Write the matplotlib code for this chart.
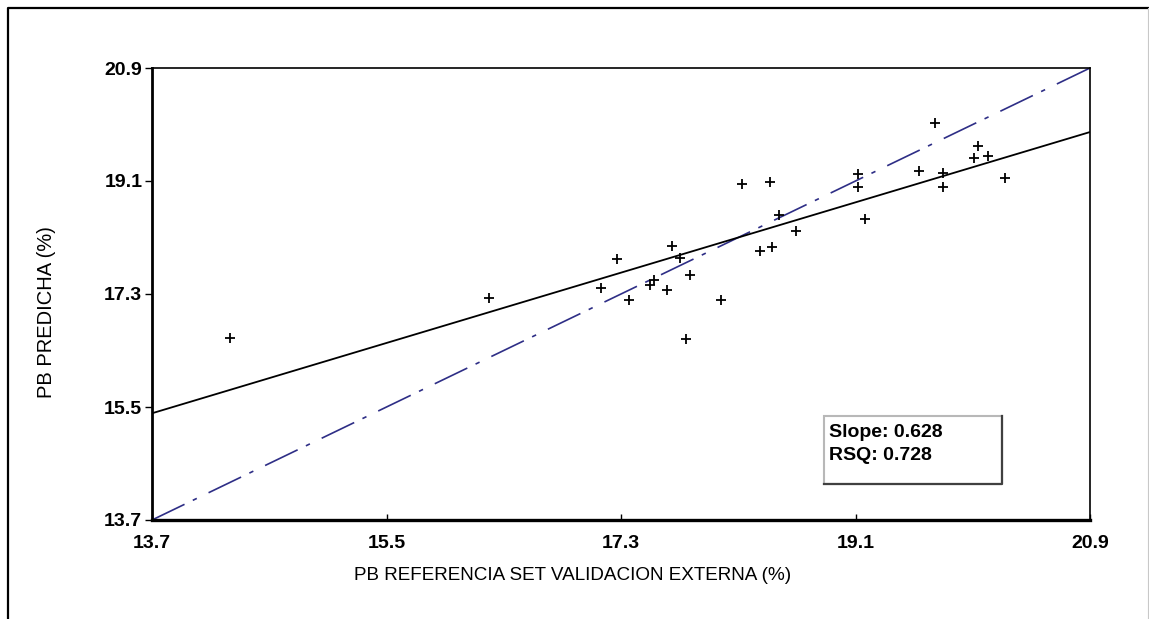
import matplotlib
matplotlib.use('Agg')

import matplotlib.pyplot as plt
from matplotlib.patches import Rectangle
from matplotlib.lines import Line2D

# reference vs predicted PB values
pb_ref = [14.30, 16.29, 17.15, 17.27, 17.36, 17.52, 17.55, 17.65, 17.69, 17.75,
          17.83, 17.80, 18.07, 18.23, 18.44, 18.51, 18.37, 18.46, 18.64, 19.12,
          19.12, 19.17, 19.71, 19.59, 19.77, 19.77, 20.04, 20.01, 20.12, 20.25]
pb_pred = [16.60, 17.24, 17.39, 17.85, 17.20, 17.44, 17.52, 17.36, 18.06, 17.88,
           17.60, 16.59, 17.20, 19.05, 19.08, 18.56, 17.99, 18.05, 18.31, 19.21,
           19.00, 18.49, 20.03, 19.26, 19.22, 19.00, 19.66, 19.47, 19.50, 19.14]

# regression line ends and the 1:1 line
fit_x = [13.7, 20.9]
fit_y = [15.40, 19.88]
ident_x = [13.7, 20.9]
ident_y = [13.7, 20.9]

ticks = [13.7, 15.5, 17.3, 19.1, 20.9]
tick_labels = ["13.7", "15.5", "17.3", "19.1", "20.9"]
slope = 0.628
rsq = 0.728

plt.rcParams['font.family'] = ['Liberation Sans', 'DejaVu Sans']
plt.rcParams['lines.scale_dashes'] = False

W, H = 1149, 619
fig = plt.figure(figsize=(W / 100, H / 100), dpi=100)
ax = fig.add_axes([152 / W, 1 - 520 / H, 938 / W, 452 / H])

ax.plot(ident_x, ident_y, color='#2e2e86', lw=1.2,
        linestyle=(0, (26, 6.6, 3.2, 9.4)))
ax.plot(fit_x, fit_y, color='black', lw=1.3)
ax.plot(pb_ref, pb_pred, linestyle='none', marker='+', markersize=7.5,
        markeredgewidth=1.3, color='black')

ax.set_xlim(13.7, 20.9)
ax.set_ylim(13.7, 20.9)
ax.set_xticks(ticks)
ax.set_xticklabels(tick_labels)
ax.set_yticks(ticks)
ax.set_yticklabels(tick_labels)
ax.tick_params(axis='x', direction='in', length=4, width=1, pad=11,
               labelsize=14)
ax.tick_params(axis='y', direction='out', length=5, width=1, pad=2,
               labelsize=14)
for lab in ax.get_xticklabels() + ax.get_yticklabels():
    lab.set_fontweight('bold')

ax.spines['left'].set_linewidth(2.0)
ax.spines['bottom'].set_linewidth(2.4)
ax.spines['top'].set_linewidth(1.2)
ax.spines['right'].set_linewidth(1.2)

fig.text(573 / W, 1 - 575 / H, "PB REFERENCIA SET VALIDACION EXTERNA (%)",
         ha='center', va='center', fontsize=13.6)
fig.text(47 / W, 1 - 312 / H, "PB PREDICHA (%)", rotation=90,
         ha='center', va='center', fontsize=14.5)

# stats box
bx0, by0, bx1, by1 = 824, 416, 1002, 484
fig.add_artist(Rectangle((bx0 / W, 1 - by1 / H), (bx1 - bx0) / W,
                         (by1 - by0) / H, transform=fig.transFigure,
                         facecolor='white', edgecolor='#b8b8b8', lw=1.5))
fig.add_artist(Line2D([bx0 / W, bx1 / W, bx1 / W],
                      [1 - by1 / H, 1 - by1 / H, 1 - by0 / H],
                      transform=fig.transFigure, color='#404040', lw=1.6))
fig.text(829 / W, 1 - 424 / H, "Slope: %.3f" % slope, ha='left', va='top',
         fontsize=14, fontweight='bold')
fig.text(829 / W, 1 - 447 / H, "RSQ: %.3f" % rsq, ha='left', va='top',
         fontsize=14, fontweight='bold')

# outer frame
fig.add_artist(Line2D([8 / W, 8 / W, 1148 / W], [0, 1 - 8 / H, 1 - 8 / H],
                      transform=fig.transFigure, color='black', lw=1.6))
fig.add_artist(Line2D([1147.5 / W, 1147.5 / W], [0, 1 - 8 / H],
                      transform=fig.transFigure, color='#c8c8c8', lw=0.8))

fig.savefig('out.png', dpi=100)
